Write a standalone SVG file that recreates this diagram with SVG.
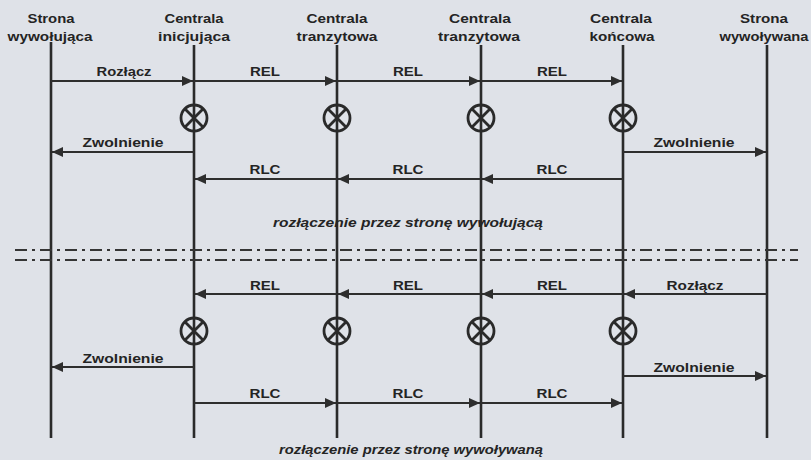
<svg xmlns="http://www.w3.org/2000/svg" width="811" height="460" viewBox="0 0 811 460">
  <style>
    .bg { fill: #dfe2e8; }
    .life { stroke: #2a2a2a; stroke-width: 2.6; fill: none; }
    .rel { stroke: #2a2a2a; stroke-width: 2.8; fill: none; }
    .msg { stroke: #2e2e2e; stroke-width: 2.1; fill: none; marker-end: url(#head); }
    .sep { stroke: #353535; stroke-width: 2.2; stroke-dasharray: 12 5 3 5; fill: none; }
    text { font-family: "Liberation Sans", Arial, sans-serif; font-weight: bold; font-size: 13px; fill: #242424; text-anchor: middle; }
    .cap { font-style: italic; }
  </style>
  <defs>
    <marker id="head" markerUnits="userSpaceOnUse" markerWidth="11" markerHeight="10" refX="11" refY="5" orient="auto">
      <path d="M0,0 L11,5 L0,10 z" fill="#2e2e2e"/>
    </marker>
    <!-- release symbol: circle with a cross, centred on 0,0 -->
    <g id="release">
      <circle r="13" class="rel"/>
      <path d="M-9.2,-9.2 L9.2,9.2 M-9.2,9.2 L9.2,-9.2" class="rel" stroke-width="2.5"/>
    </g>
  </defs>

  <rect class="bg" x="0" y="0" width="811" height="460"/>

  <!-- participants -->
  <g id="strona-wywolujaca">
    <text x="51" y="23" textLength="47" lengthAdjust="spacingAndGlyphs">Strona</text>
    <text x="50" y="41" textLength="85" lengthAdjust="spacingAndGlyphs">wywołująca</text>
    <line class="life" x1="51" y1="42" x2="51" y2="438"/>
  </g>
  <g id="centrala-inicjujaca">
    <text x="194" y="23" textLength="59" lengthAdjust="spacingAndGlyphs">Centrala</text>
    <text x="194" y="41" textLength="72" lengthAdjust="spacingAndGlyphs">inicjująca</text>
    <line class="life" x1="194" y1="45" x2="194" y2="438"/>
    <use href="#release" x="194" y="118"/>
    <use href="#release" x="194" y="331"/>
  </g>
  <g id="centrala-tranzytowa-1">
    <text x="337" y="23" textLength="61" lengthAdjust="spacingAndGlyphs">Centrala</text>
    <text x="337" y="41" textLength="81" lengthAdjust="spacingAndGlyphs">tranzytowa</text>
    <line class="life" x1="337" y1="45" x2="337" y2="438"/>
    <use href="#release" x="337" y="118"/>
    <use href="#release" x="337" y="331"/>
  </g>
  <g id="centrala-tranzytowa-2">
    <text x="480" y="23" textLength="62" lengthAdjust="spacingAndGlyphs">Centrala</text>
    <text x="479" y="41" textLength="82" lengthAdjust="spacingAndGlyphs">tranzytowa</text>
    <line class="life" x1="481" y1="45" x2="481" y2="438"/>
    <use href="#release" x="481" y="118"/>
    <use href="#release" x="481" y="331"/>
  </g>
  <g id="centrala-koncowa">
    <text x="621" y="23" textLength="62" lengthAdjust="spacingAndGlyphs">Centrala</text>
    <text x="622" y="41" textLength="65" lengthAdjust="spacingAndGlyphs">końcowa</text>
    <line class="life" x1="623" y1="45" x2="623" y2="438"/>
    <use href="#release" x="623" y="118"/>
    <use href="#release" x="623" y="331"/>
  </g>
  <g id="strona-wywolywana">
    <text x="764" y="23" textLength="48" lengthAdjust="spacingAndGlyphs">Strona</text>
    <text x="764" y="41" textLength="89" lengthAdjust="spacingAndGlyphs">wywoływana</text>
    <line class="life" x1="767" y1="45" x2="767" y2="438"/>
  </g>

  <!-- messages -->
  <g id="connectors">
    <!-- release initiated by the calling party -->
    <line class="msg" x1="51" y1="81" x2="193" y2="81"/>
    <line class="msg" x1="194" y1="81" x2="336" y2="81"/>
    <line class="msg" x1="337" y1="81" x2="480" y2="81"/>
    <line class="msg" x1="481" y1="81" x2="622" y2="81"/>
    <line class="msg" x1="194" y1="152" x2="52" y2="152"/>
    <line class="msg" x1="623" y1="152" x2="766" y2="152"/>
    <line class="msg" x1="623" y1="179" x2="482" y2="179"/>
    <line class="msg" x1="481" y1="179" x2="338" y2="179"/>
    <line class="msg" x1="337" y1="179" x2="195" y2="179"/>
    <!-- release initiated by the called party -->
    <line class="msg" x1="767" y1="294" x2="624" y2="294"/>
    <line class="msg" x1="623" y1="294" x2="482" y2="294"/>
    <line class="msg" x1="481" y1="294" x2="338" y2="294"/>
    <line class="msg" x1="337" y1="294" x2="195" y2="294"/>
    <line class="msg" x1="194" y1="367" x2="52" y2="367"/>
    <line class="msg" x1="623" y1="376" x2="766" y2="376"/>
    <line class="msg" x1="194" y1="403" x2="336" y2="403"/>
    <line class="msg" x1="337" y1="403" x2="480" y2="403"/>
    <line class="msg" x1="481" y1="403" x2="622" y2="403"/>

    <text x="124" y="76" textLength="55" lengthAdjust="spacingAndGlyphs">Rozłącz</text>
    <text x="265" y="76" textLength="30" lengthAdjust="spacingAndGlyphs">REL</text>
    <text x="408" y="76" textLength="30" lengthAdjust="spacingAndGlyphs">REL</text>
    <text x="552" y="76" textLength="30" lengthAdjust="spacingAndGlyphs">REL</text>
    <text x="123" y="147" textLength="81" lengthAdjust="spacingAndGlyphs">Zwolnienie</text>
    <text x="694" y="147" textLength="81" lengthAdjust="spacingAndGlyphs">Zwolnienie</text>
    <text x="265" y="174" textLength="31" lengthAdjust="spacingAndGlyphs">RLC</text>
    <text x="408" y="174" textLength="31" lengthAdjust="spacingAndGlyphs">RLC</text>
    <text x="552" y="174" textLength="31" lengthAdjust="spacingAndGlyphs">RLC</text>

    <text x="695" y="290" textLength="57" lengthAdjust="spacingAndGlyphs">Rozłącz</text>
    <text x="552" y="290" textLength="30" lengthAdjust="spacingAndGlyphs">REL</text>
    <text x="408" y="290" textLength="30" lengthAdjust="spacingAndGlyphs">REL</text>
    <text x="265" y="290" textLength="30" lengthAdjust="spacingAndGlyphs">REL</text>
    <text x="123" y="363" textLength="81" lengthAdjust="spacingAndGlyphs">Zwolnienie</text>
    <text x="694" y="372" textLength="81" lengthAdjust="spacingAndGlyphs">Zwolnienie</text>
    <text x="265" y="398" textLength="31" lengthAdjust="spacingAndGlyphs">RLC</text>
    <text x="408" y="398" textLength="31" lengthAdjust="spacingAndGlyphs">RLC</text>
    <text x="552" y="398" textLength="31" lengthAdjust="spacingAndGlyphs">RLC</text>
  </g>

  <!-- section captions and separator -->
  <text class="cap" x="408" y="227" textLength="270" lengthAdjust="spacingAndGlyphs">rozłączenie przez stronę wywołującą</text>
  <line class="sep" x1="15" y1="250" x2="798" y2="250"/>
  <line class="sep" x1="15" y1="260" x2="798" y2="260"/>
  <text class="cap" x="411" y="454" textLength="264" lengthAdjust="spacingAndGlyphs">rozłączenie przez stronę wywoływaną</text>
</svg>
